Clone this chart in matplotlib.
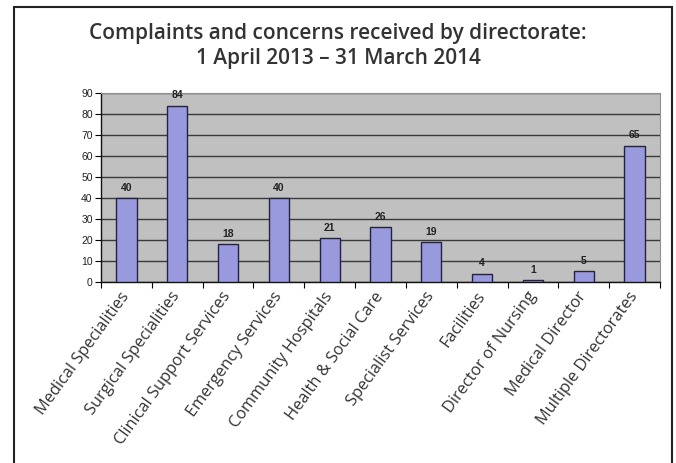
import matplotlib
matplotlib.use('Agg')
from matplotlib import pyplot as plt
from matplotlib.patches import Rectangle

categories = ['Medical Specialities', 'Surgical Specialities', 'Clinical Support Services',
              'Emergency Services', 'Community Hospitals', 'Health & Social Care',
              'Specialist Services', 'Facilities', 'Director of Nursing',
              'Medical Director', 'Multiple Directorates']
counts = [40, 84, 18, 40, 21, 26, 19, 4, 1, 5, 65]
yticks = [0, 10, 20, 30, 40, 50, 60, 70, 80, 90]

fig = plt.figure(figsize=(6.76, 4.63), dpi=100)
ax = fig.add_axes([0.1494, 0.391, 0.8269, 0.408])

# outer frame around the whole figure
fig.patches.append(Rectangle((0.0207, -0.05), 0.973, 1.035, transform=fig.transFigure,
                             fill=False, edgecolor='#222222', linewidth=1.5))

x = range(len(categories))
ax.set_facecolor('#c0c0c0')
ax.bar(x, counts, width=0.4, color='#9999dd', edgecolor='#222244', linewidth=1.0, zorder=3)
for i, v in zip(x, counts):
    ax.text(i, v + 2.5, str(v), ha='center', va='bottom', fontsize=7.5,
            fontweight='bold', family='Liberation Sans', color='#222222')

ax.set_xlim(-0.5, len(categories) - 0.5)
ax.set_ylim(0, 90)
ax.set_yticks(yticks)
ax.set_yticklabels([str(t) for t in yticks], fontsize=7.5, family='Liberation Sans', color='#222222')
ax.yaxis.grid(True, color='#3a3a3a', linewidth=1.0, zorder=1)
ax.set_axisbelow(True)
ax.tick_params(axis='y', length=4, width=0.8, direction='out', pad=2)

# ticks between categories, labels at bar centres
ax.set_xticks([i - 0.5 for i in x] + [len(categories) - 0.5])
ax.set_xticklabels([])
ax.tick_params(axis='x', length=4, width=0.8, direction='out')
for i, name in zip(x, categories):
    ax.text(i, -5.5, name, rotation=54, rotation_mode='anchor', ha='right', va='center',
            fontsize=11.8, family='Open Sans', color='#333333')

for side in ['top', 'right']:
    ax.spines[side].set_color('#909090')
for side in ['left', 'bottom']:
    ax.spines[side].set_color('#111111')
    ax.spines[side].set_linewidth(1.0)

fig.text(0.5, 0.928, 'Complaints and concerns received by directorate:', ha='center', va='center',
         fontsize=15, fontweight='semibold', family='Open Sans', color='#333333')
fig.text(0.5, 0.874, '1 April 2013 \u2013 31 March 2014', ha='center', va='center',
         fontsize=15, fontweight='semibold', family='Open Sans', color='#333333')

fig.savefig('out.png', dpi=100)
